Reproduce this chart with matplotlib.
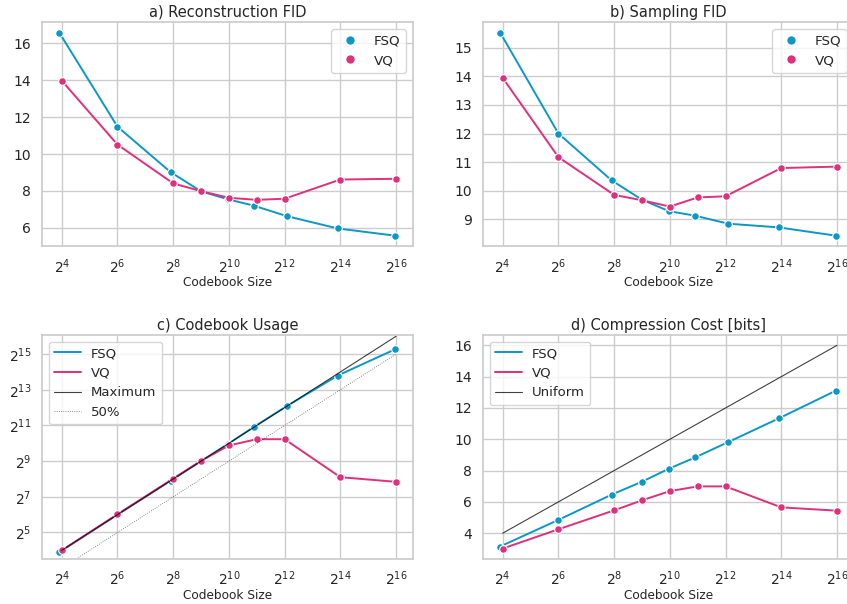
import numpy as np
import matplotlib
matplotlib.use('Agg')
import matplotlib.pyplot as plt
import seaborn as sns
from matplotlib.lines import Line2D

sns.set_theme(style='whitegrid')
plt.rcParams['font.family'] = ['DejaVu Sans']

FSQ_COLOR = '#0d97c7'
VQ_COLOR = '#e0307b'

# codebook sizes (log2); FSQ sizes are the actual products of levels
fsq_log2 = [3.907, 6.0, 7.907, 9.0, 9.966, 10.907, 12.095, 13.907, 15.966]
vq_log2 = [4, 6, 8, 9, 10, 11, 12, 14, 16]

recon_fsq = [16.58, 11.48, 9.02, 7.98, 7.55, 7.2, 6.63, 5.97, 5.58]
recon_vq = [13.97, 10.51, 8.41, 7.99, 7.63, 7.52, 7.58, 8.62, 8.66]

samp_fsq = [15.54, 12.0, 10.36, 9.68, 9.28, 9.12, 8.84, 8.71, 8.42]
samp_vq = [13.95, 11.17, 9.85, 9.66, 9.44, 9.76, 9.8, 10.79, 10.84]

usage_fsq_log2 = [3.9, 6.0, 7.9, 9.0, 9.96, 10.93, 12.1, 13.8, 15.27]
usage_vq_log2 = [3.99, 6.02, 8.02, 9.02, 9.88, 10.23, 10.23, 8.1, 7.84]

cost_fsq = [3.15, 4.85, 6.46, 7.29, 8.12, 8.84, 9.82, 11.33, 13.11]
cost_vq = [3.02, 4.25, 5.46, 6.1, 6.69, 6.99, 6.99, 5.65, 5.44]

ref_log2 = [4, 16]
xtick_log2 = [4, 6, 8, 10, 12, 14, 16]

fsq_x = np.power(2.0, fsq_log2)
vq_x = np.power(2.0, vq_log2)

fig, axs = plt.subplots(2, 2, figsize=(8.47, 6.04), dpi=100)
fig.subplots_adjust(left=0.05, right=1.008, top=0.963, bottom=0.075,
                    wspace=0.19, hspace=0.4)

line_kw = dict(lw=1.4, marker='o', markersize=5.5, markeredgecolor='white',
               markeredgewidth=0.8)


def setup_x(ax):
    ax.set_xscale('log', base=2)
    ax.set_xticks([2.0 ** t for t in xtick_log2])
    ax.set_xticklabels(['$2^{%d}$' % t for t in xtick_log2])
    ax.xaxis.set_minor_locator(matplotlib.ticker.NullLocator())
    ax.set_xlabel('Codebook Size', fontsize=8.7, labelpad=0.5)
    ax.tick_params(labelsize=10, pad=2)
    for s in ax.spines.values():
        s.set_color('#cccccc')


def marker_legend(ax):
    handles = [Line2D([], [], ls='none', marker='o', markersize=7,
                      color=c, markeredgecolor='white')
               for c in (FSQ_COLOR, VQ_COLOR)]
    ax.legend(handles, ['FSQ', 'VQ'], loc='upper right', fontsize=9.7)


# a) reconstruction
ax = axs[0, 0]
ax.plot(fsq_x, recon_fsq, color=FSQ_COLOR, **line_kw)
ax.plot(vq_x, recon_vq, color=VQ_COLOR, **line_kw)
setup_x(ax)
ax.set_title('a) Reconstruction FID', fontsize=10.5, pad=4)
marker_legend(ax)

# b) sampling
ax = axs[0, 1]
ax.plot(fsq_x, samp_fsq, color=FSQ_COLOR, **line_kw)
ax.plot(vq_x, samp_vq, color=VQ_COLOR, **line_kw)
setup_x(ax)
ax.set_title('b) Sampling FID', fontsize=10.5, pad=4)
marker_legend(ax)

# c) usage
ax = axs[1, 0]
ax.plot(fsq_x, np.power(2.0, usage_fsq_log2), color=FSQ_COLOR, label='FSQ', **line_kw)
ax.plot(vq_x, np.power(2.0, usage_vq_log2), color=VQ_COLOR, label='VQ', **line_kw)
ref_x = np.power(2.0, ref_log2)
ax.plot(ref_x, ref_x, color='black', lw=0.8, alpha=0.75, label='Maximum')
ax.plot(ref_x, ref_x / 2, color='black', lw=0.6, ls=':', alpha=0.6, label='50%')
ax.set_yscale('log', base=2)
ytick_log2 = [5, 7, 9, 11, 13, 15]
ax.set_yticks([2.0 ** t for t in ytick_log2])
ax.set_yticklabels(['$2^{%d}$' % t for t in ytick_log2])
ax.yaxis.set_minor_locator(matplotlib.ticker.NullLocator())
ax.set_ylim(2 ** 3.53, 2 ** 16.06)
setup_x(ax)
ax.set_title('c) Codebook Usage', fontsize=10.5, pad=4)
leg = ax.legend(loc='upper left', fontsize=9.5,
                handles=ax.get_lines(),
                labels=['FSQ', 'VQ', 'Maximum', '50%'])
for h in leg.legend_handles:
    h.set_marker('')

# d) compression cost
ax = axs[1, 1]
ax.plot(fsq_x, cost_fsq, color=FSQ_COLOR, label='FSQ', **line_kw)
ax.plot(vq_x, cost_vq, color=VQ_COLOR, label='VQ', **line_kw)
ax.plot(ref_x, ref_log2, color='black', lw=0.8, alpha=0.75, label='Uniform')
setup_x(ax)
ax.set_title('d) Compression Cost [bits]', fontsize=10.5, pad=4)
leg = ax.legend(loc='upper left', fontsize=9.5)
for h in leg.legend_handles:
    h.set_marker('')

plt.savefig('out.png')
